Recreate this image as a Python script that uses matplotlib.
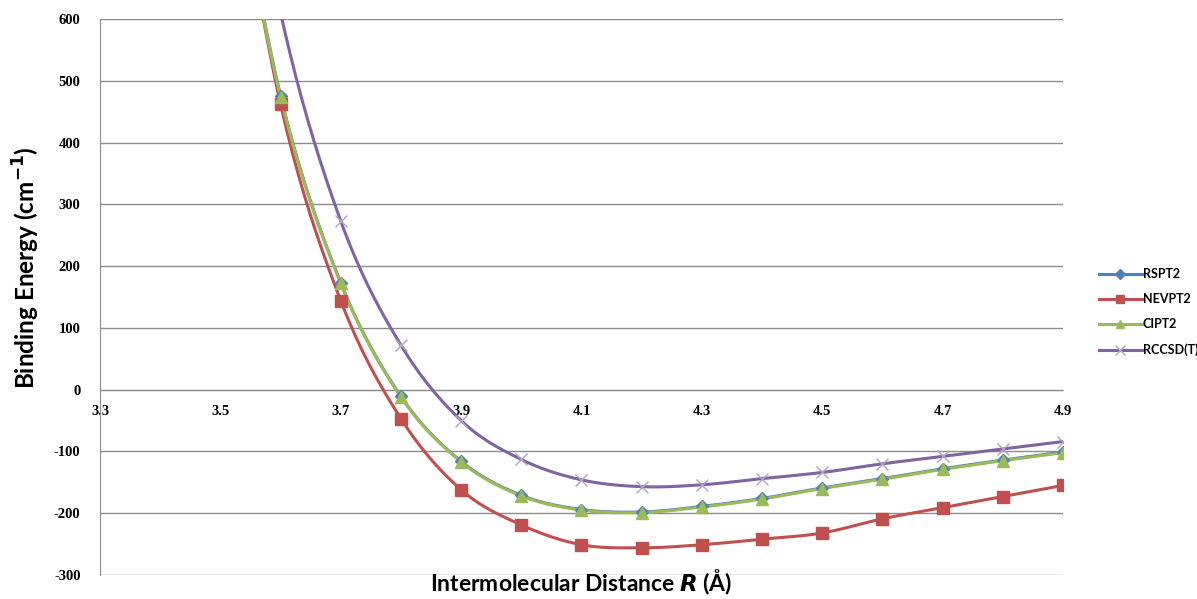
import numpy as np
import matplotlib
matplotlib.use('Agg')
import matplotlib.pyplot as plt

plt.rcParams['axes.unicode_minus'] = False

# data
dist = [3.5, 3.6, 3.7, 3.8, 3.9, 4.0, 4.1, 4.2, 4.3, 4.4, 4.5, 4.6, 4.7, 4.8, 4.9]
rspt2 = [980, 476, 173, -11, -116, -171, -194, -198, -189, -176, -159, -144, -128, -114, -101]
nevpt2 = [1000, 462, 144, -47, -162, -219, -251, -256, -251, -242, -232, -209, -191, -173, -155]
cipt2 = [975, 474, 172, -12, -117, -172, -195, -199, -190, -177, -160, -145, -129, -115, -102]
rccsd = [1150, 610, 273, 72, -50, -113, -146, -157, -154, -144, -134, -120, -108, -96, -84]

xticks = [3.3, 3.5, 3.7, 3.9, 4.1, 4.3, 4.5, 4.7, 4.9]
yticks = [-300, -200, -100, 0, 100, 200, 300, 400, 500, 600]


def smooth(x, y, n=20):
    # Catmull-Rom spline, like Excel's smoothed line
    x = np.asarray(x, float)
    y = np.asarray(y, float)
    px = np.concatenate([[2 * x[0] - x[1]], x, [2 * x[-1] - x[-2]]])
    py = np.concatenate([[2 * y[0] - y[1]], y, [2 * y[-1] - y[-2]]])
    xs, ys = [], []
    t = np.linspace(0, 1, n, endpoint=False)
    for i in range(1, len(px) - 2):
        for p, out in ((px, xs), (py, ys)):
            p0, p1, p2, p3 = p[i - 1], p[i], p[i + 1], p[i + 2]
            out.append(0.5 * (2 * p1 + (-p0 + p2) * t + (2 * p0 - 5 * p1 + 4 * p2 - p3) * t ** 2
                              + (-p0 + 3 * p1 - 3 * p2 + p3) * t ** 3))
    xs.append([x[-1]])
    ys.append([y[-1]])
    return np.concatenate(xs), np.concatenate(ys)


fig = plt.figure(figsize=(11.97, 5.99), dpi=100)
ax = fig.add_axes([100 / 1197, 1 - 575 / 599, 963 / 1197, 556 / 599])

series = [
    ('RSPT2', rspt2, '#4F81BD', 'D', 6, '#4F81BD'),
    ('NEVPT2', nevpt2, '#C0504D', 's', 8, '#C0504D'),
    ('CIPT2', cipt2, '#9BBB59', '^', 8, '#9BBB59'),
    ('RCCSD(T)', rccsd, '#8064A2', 'x', 9, '#B3A2C7'),
]
handles = []
for name, vals, col, mk, ms, mcol in series:
    sx, sy = smooth(dist, vals)
    ax.plot(sx, sy, color=col, lw=2.2, zorder=3)
    ax.plot(dist, vals, ls='none', marker=mk, ms=ms, color=mcol, mec=mcol, mew=1, zorder=4)
    h, = ax.plot([], [], color=col, lw=2.2, marker=mk, ms=ms * 0.8, mfc=mcol, mec=mcol, label=name)
    handles.append(h)

ax.set_xlim(3.3, 4.9)
ax.set_ylim(-300, 600)
ax.set_xticks(xticks)
ax.set_xticklabels([f'{v:.1f}' for v in xticks])
ax.set_yticks(yticks)
ax.grid(axis='y', color='#8c8c8c', lw=1)
ax.set_axisbelow(True)
for s in ['top', 'right']:
    ax.spines[s].set_visible(False)
ax.spines['left'].set_color('#8c8c8c')
ax.spines['bottom'].set_color('#8c8c8c')
ax.spines['bottom'].set_position(('data', 0))
ax.tick_params(length=0)
ax.tick_params(axis='x', pad=11)
ax.tick_params(axis='y', pad=14)
for lab in ax.get_xticklabels() + ax.get_yticklabels():
    lab.set_fontfamily('Liberation Serif')
    lab.set_fontweight('bold')
    lab.set_fontsize(10.5)

fig.text(26 / 1197, 1 - 268 / 599, 'Binding Energy (cm$^{\\mathbf{-1}}$)', rotation=90, ha='center', va='center',
         fontsize=17.5, fontweight='bold', family='Lato')
fig.text(581 / 1197, 2 / 599, r'Intermolecular Distance $\boldsymbol{R}$ (Å)', ha='center', va='bottom',
         fontsize=16.5, fontweight='bold', family='Lato')

fig.legend(handles=handles, loc='center left', bbox_to_anchor=(1094 / 1197, 1 - 312 / 599), frameon=False,
           prop={'family': 'Lato', 'weight': 'bold', 'size': 9}, handlelength=3.4, handletextpad=0.1,
           labelspacing=1.05, borderaxespad=0)

fig.savefig('out.png', dpi=100)
